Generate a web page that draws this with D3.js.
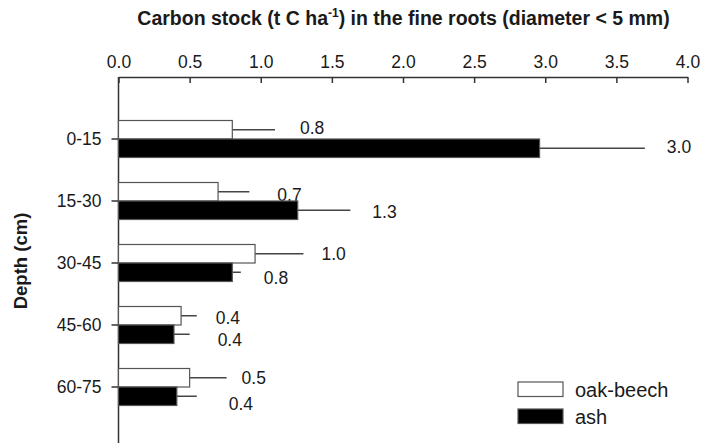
<!DOCTYPE html>
<html><head><meta charset="utf-8">
<script src="https://cdn.jsdelivr.net/npm/d3@7"></script>
<style>body{margin:0;background:#fff} text{font-family:"Liberation Sans",Arial,sans-serif;fill:#1a1a1a}</style>
</head><body><svg id="c" width="701" height="443"></svg>
<script>
const depths = ["0-15","15-30","30-45","45-60","60-75"];
const seriesNames = ["oak-beech","ash"];
const oakBeech = [0.80,0.70,0.96,0.44,0.50];
const ash = [2.96,1.26,0.80,0.39,0.41];
const oakBeechErr = [0.30,0.22,0.34,0.11,0.26];
const ashErr = [0.74,0.37,0.06,0.11,0.14];
const oakBeechLabels = ["0.8","0.7","1.0","0.4","0.5"];
const ashLabels = ["3.0","1.3","0.8","0.4","0.4"];
const xTicks = [0,0.5,1,1.5,2,2.5,3,3.5,4];

// layout (not data)
const oakNudge = [[25,-1.5],[28,3],[18,0],[19,2],[15,0]];
const ashNudge = [[22,-1],[22,2],[23,6],[28,6],[32,8]];

const svg = d3.select("#c");
const x = d3.scaleLinear().domain([0,4]).range([118.5,687.5]);
const y = d3.scaleBand().domain(depths).range([108,418]);
const axisY0 = 77, axisY1 = 449;
const barH = 18.5;
const lineCol = "#333";
const fs = 17.5;

const series = [
  {name: seriesNames[0], vals: oakBeech, err: oakBeechErr, labels: oakBeechLabels, fill: "#fff", off: -barH, nudge: oakNudge},
  {name: seriesNames[1], vals: ash, err: ashErr, labels: ashLabels, fill: "#000", off: 0, nudge: ashNudge}
];

// top axis
const gx = svg.append("g").attr("transform", `translate(0,${axisY0})`)
  .call(d3.axisTop(x).tickValues(xTicks).tickFormat(d3.format(".1f")).tickSizeInner(-6).tickSizeOuter(0).tickPadding(9));
gx.selectAll("text").attr("font-size", fs).attr("font-family", null).style("fill","#1a1a1a");
gx.selectAll("line").attr("stroke", lineCol).attr("stroke-width", 1.5);
gx.select(".domain").attr("stroke", lineCol).attr("stroke-width", 1.5);

// left axis
const gy = svg.append("g").attr("transform", `translate(${x(0)},0)`)
  .call(d3.axisLeft(y).tickSizeInner(7).tickSizeOuter(0).tickPadding(10));
gy.select(".domain").remove();
gy.selectAll("text").attr("font-size", fs).attr("font-family", null).style("fill","#1a1a1a");
gy.selectAll("line").attr("stroke", lineCol).attr("stroke-width", 1.5);
svg.append("line").attr("x1", x(0)).attr("x2", x(0)).attr("y1", axisY0).attr("y2", axisY1)
  .attr("stroke", lineCol).attr("stroke-width", 1.5);

const cy = d => y(d) + y.bandwidth()/2;

series.forEach(s => {
  const g = svg.append("g");
  g.selectAll("line.err").data(depths).join("line")
    .attr("x1", (d,i) => x(s.vals[i])).attr("x2", (d,i) => x(s.vals[i] + s.err[i]))
    .attr("y1", d => cy(d) + s.off + barH/2).attr("y2", d => cy(d) + s.off + barH/2)
    .attr("stroke", "#444").attr("stroke-width", 1.5);
  g.selectAll("rect").data(depths).join("rect")
    .attr("x", x(0)).attr("width", (d,i) => x(s.vals[i]) - x(0))
    .attr("y", d => cy(d) + s.off).attr("height", barH)
    .attr("fill", s.fill).attr("stroke", "#555").attr("stroke-width", 1.2);
  g.selectAll("text").data(depths).join("text")
    .attr("x", (d,i) => x(s.vals[i] + s.err[i]) + s.nudge[i][0])
    .attr("y", (d,i) => cy(d) + s.off + barH/2 + s.nudge[i][1])
    .attr("dy", "0.35em").attr("font-size", fs)
    .text((d,i) => s.labels[i]);
});

// title
const t = svg.append("text").attr("x", 403.5).attr("y", 25).attr("text-anchor", "middle")
  .attr("font-size", 19.5).attr("font-weight", "bold");
t.append("tspan").text("Carbon stock (t C ha");
t.append("tspan").attr("font-size", 12).attr("dy", -8).text("-1");
t.append("tspan").attr("dy", 8).text(") in the fine roots (diameter < 5 mm)");

// y title
svg.append("text").attr("transform", "translate(27,261) rotate(-90)").attr("text-anchor", "middle")
  .attr("font-size", 18.5).attr("font-weight", "bold").text("Depth (cm)");

// legend
const leg = svg.append("g");
series.forEach((s,i) => {
  const ly = 382 + i*27;
  leg.append("rect").attr("x", 518).attr("y", ly).attr("width", 45).attr("height", 14.5)
    .attr("fill", s.fill).attr("stroke", "#555").attr("stroke-width", 1.2);
  leg.append("text").attr("x", 575).attr("y", ly + 7.5).attr("dy", "0.35em").attr("font-size", 20).text(s.name);
});
</script></body></html>
